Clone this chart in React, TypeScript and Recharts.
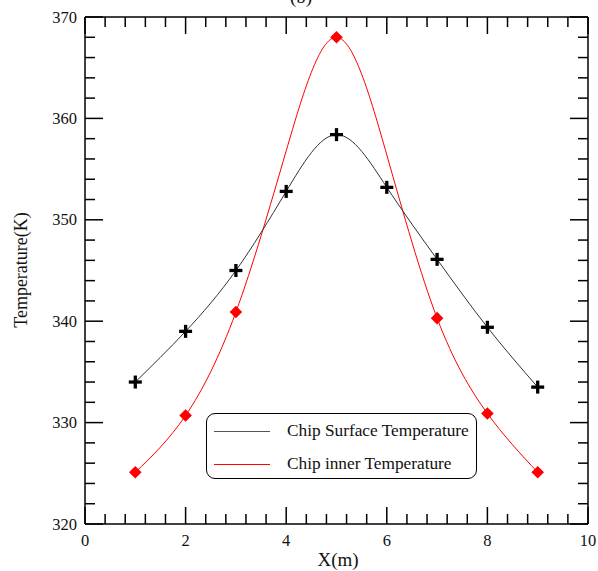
import React from 'react';
import { LineChart, Line, XAxis, YAxis } from 'recharts';

const xValues = [1, 2, 3, 4, 5, 6, 7, 8, 9];
const surfaceTemp = [334.0, 339.0, 345.0, 352.8, 358.4, 353.2, 346.1, 339.4, 333.5];
// inner-temperature curve (no markers at x = 4 and 6)
const innerCurve = [325.1, 330.7, 340.9, 356.8, 368.0, 356.4, 340.3, 330.9, 325.1];
const innerMarkers: (number | null)[] = [325.1, 330.7, 340.9, null, 368.0, null, 340.3, 330.9, 325.1];

const xTicks = [0, 0.4, 0.8, 1.2, 1.6, 2, 2.4, 2.8, 3.2, 3.6, 4, 4.4, 4.8, 5.2, 5.6, 6, 6.4, 6.8, 7.2, 7.6, 8, 8.4, 8.8, 9.2, 9.6, 10];
const yTicks = [320, 322, 324, 326, 328, 330, 332, 334, 336, 338, 340, 342, 344, 346, 348, 350, 352, 354, 356, 358, 360, 362, 364, 366, 368, 370];

const seriesNames = ['Chip Surface Temperature', 'Chip inner Temperature'];
const seriesColors = ['#333333', '#ff0000'];

const data = xValues.map((x, i) => ({ x, surface: surfaceTemp[i], inner: innerCurve[i], innerMark: innerMarkers[i] }));

const FONT = '"Liberation Serif", "Times New Roman", serif';
const isMajor = (v: number, step: number) => Math.abs(v / step - Math.round(v / step)) < 1e-6;

const BottomTick = (props: any) => {
  const { x, y, payload } = props;
  const v = payload.value;
  const major = isMajor(v, 2);
  return (
    <g>
      <line x1={x} y1={y} x2={x} y2={y - (major ? 17 : 10)} stroke="#000" strokeWidth={1.5} />
      {major && (
        <text x={x} y={y + 22} textAnchor="middle" fontSize={16.5} fontFamily={FONT} fill="#111">
          {v}
        </text>
      )}
    </g>
  );
};

const TopTick = (props: any) => {
  const { x, y, payload } = props;
  const major = isMajor(payload.value, 2);
  return <line x1={x} y1={y} x2={x} y2={y + (major ? 17 : 10)} stroke="#000" strokeWidth={1.5} />;
};

const LeftTick = (props: any) => {
  const { x, y, payload } = props;
  const v = payload.value;
  const major = isMajor(v, 10);
  return (
    <g>
      <line x1={x} y1={y} x2={x + (major ? 18 : 10)} y2={y} stroke="#000" strokeWidth={1.5} />
      {major && (
        <text x={x - 8} y={y + 5.5} textAnchor="end" fontSize={16.5} fontFamily={FONT} fill="#111">
          {v}
        </text>
      )}
    </g>
  );
};

const RightTick = (props: any) => {
  const { x, y, payload } = props;
  const major = isMajor(payload.value, 10);
  return <line x1={x} y1={y} x2={x - (major ? 18 : 10)} y2={y} stroke="#000" strokeWidth={1.5} />;
};

const CrossDot = (props: any) => {
  const { cx, cy, index } = props;
  if (cx == null || cy == null) return <g key={`c${index}`} />;
  return (
    <g key={`c${index}`}>
      <line x1={cx - 6.5} y1={cy} x2={cx + 6.5} y2={cy} stroke="#000" strokeWidth={3.3} />
      <line x1={cx} y1={cy - 6.5} x2={cx} y2={cy + 6.5} stroke="#000" strokeWidth={3.3} />
    </g>
  );
};

const DiamondDot = (props: any) => {
  const { cx, cy, index, value } = props;
  if (cx == null || cy == null || value == null || (Array.isArray(value) && value[1] == null)) return <g key={`d${index}`} />;
  const r = 6.3;
  return (
    <path
      key={`d${index}`}
      d={`M${cx},${cy - r} L${cx + r},${cy} L${cx},${cy + r} L${cx - r},${cy} Z`}
      fill="#ff0000"
      stroke="none"
    />
  );
};

export default function App() {
  return (
    <div style={{ position: 'absolute', left: 0, top: 0, width: 598, height: 571, background: '#fff' }}>
      <LineChart width={598} height={571} data={data} margin={{ top: 16, right: 9, left: 0, bottom: 0 }}>
        <XAxis
          xAxisId="top"
          orientation="top"
          dataKey="x"
          type="number"
          domain={[0, 10]}
          ticks={xTicks}
          interval={0}
          height={1}
          tickSize={0}
          tickMargin={0}
          tickLine={false}
          tick={TopTick}
          axisLine={{ stroke: '#000', strokeWidth: 1.5 }}
          label={{
            content: () => (
              <text x={301} y={3} textAnchor="middle" fontSize={19} fontFamily={FONT} fill="#111">
                (b)
              </text>
            ),
          }}
        />
        <YAxis
          yAxisId="right"
          orientation="right"
          type="number"
          domain={[320, 370]}
          ticks={yTicks}
          interval={0}
          width={1}
          tickSize={0}
          tickMargin={0}
          tickLine={false}
          tick={RightTick}
          axisLine={{ stroke: '#000', strokeWidth: 1.5 }}
        />
        <XAxis
          dataKey="x"
          type="number"
          domain={[0, 10]}
          ticks={xTicks}
          interval={0}
          height={47}
          tickSize={0}
          tickMargin={0}
          tickLine={false}
          tick={BottomTick}
          axisLine={{ stroke: '#000', strokeWidth: 1.5 }}
          label={{
            content: () => (
              <text x={338} y={566} textAnchor="middle" fontSize={19} fontFamily={FONT} fill="#111">
                X(m)
              </text>
            ),
          }}
        />
        <YAxis
          type="number"
          domain={[320, 370]}
          ticks={yTicks}
          interval={0}
          width={85}
          tickSize={0}
          tickMargin={0}
          tickLine={false}
          tick={LeftTick}
          axisLine={{ stroke: '#000', strokeWidth: 1.5 }}
          label={{
            content: () => (
              <text
                x={27}
                y={270}
                textAnchor="middle"
                fontSize={18}
                fontFamily={FONT}
                fill="#111"
                transform="rotate(-90 27 270)"
              >
                Temperature(K)
              </text>
            ),
          }}
        />
        <Line
          xAxisId="top"
          yAxisId="right"
          dataKey="inner"
          type="natural"
          stroke={seriesColors[1]}
          strokeWidth={1}
          dot={false}
          activeDot={false}
          isAnimationActive={false}
        />
        <Line
          dataKey="innerMark"
          type="natural"
          stroke="none"
          dot={DiamondDot}
          activeDot={false}
          isAnimationActive={false}
        />
        <Line
          dataKey="surface"
          type="natural"
          stroke={seriesColors[0]}
          strokeWidth={1}
          dot={CrossDot}
          activeDot={false}
          isAnimationActive={false}
        />
      </LineChart>
      <div
        style={{
          position: 'absolute',
          left: 206,
          top: 413,
          width: 269,
          height: 64,
          border: '1.5px solid #000',
          borderRadius: 9,
          background: '#fff',
          fontFamily: FONT,
          fontSize: 17.3,
          color: '#111',
          boxSizing: 'content-box',
        }}
      >
        {seriesNames.map((name, i) => (
          <div key={name} style={{ position: 'absolute', left: 0, top: i === 0 ? 8 : 41, height: 18, width: 269 }}>
            <div
              style={{
                position: 'absolute',
                left: 7,
                top: 9,
                width: 56,
                height: 0,
                borderTop: `1px solid ${i === 0 ? '#555' : '#ff0000'}`,
              }}
            />
            <span style={{ position: 'absolute', left: 80, top: 0, whiteSpace: 'nowrap', lineHeight: '18px' }}>{name}</span>
          </div>
        ))}
      </div>
    </div>
  );
}
